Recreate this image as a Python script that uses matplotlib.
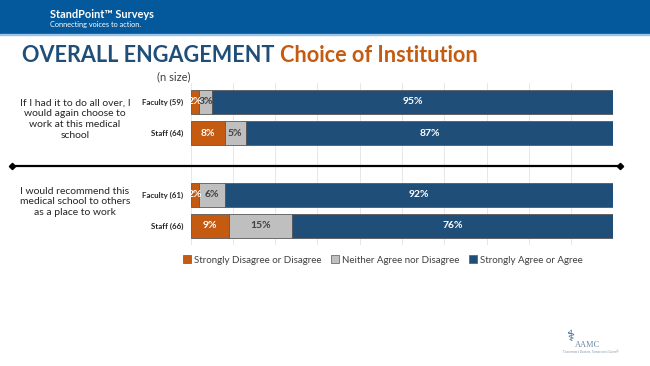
import matplotlib
matplotlib.use("Agg")
import matplotlib.pyplot as plt
from matplotlib.patches import Rectangle, Patch
from matplotlib.lines import Line2D

plt.rcParams['font.family'] = ['Lato', 'DejaVu Sans']

# data
groups = ["Faculty (59)", "Staff (64)", "Faculty (61)", "Staff (66)"]
disagree = [2, 8, 2, 9]
neutral = [3, 5, 6, 15]
agree = [95, 87, 92, 76]
questions = ["If I had it to do all over, I\nwould again choose to\nwork at this medical\nschool",
             "I would recommend this\nmedical school to others\nas a place to work"]
series_names = ["Strongly Disagree or Disagree", "Neither Agree nor Disagree",
                "Strongly Agree or Agree"]

c_orange = "#C55A11"
c_grey = "#BFBFBF"
c_blue = "#1F4E79"
W, H = 650, 366

fig = plt.figure(figsize=(6.5, 3.66), dpi=100)

def fx(px):
    return px / W

def fy(py):
    return 1 - py / H

# header band
fig.patches.append(Rectangle((0, fy(34)), 1, 34 / H, transform=fig.transFigure,
                             color="#03599B", zorder=0))
fig.patches.append(Rectangle((0, fy(35)), 1, 1.2 / H, transform=fig.transFigure,
                             color="#9DC3E6", zorder=0))
fig.text(fx(50), fy(15), "StandPoint\u2122 Surveys", color="white", fontsize=7.9,
         fontweight="bold", va="center", ha="left")
fig.text(fx(50), fy(24.7), "Connecting voices to action.", color="white", fontsize=5.3,
         va="center", ha="left")

# title
t1 = fig.text(fx(22.5), fy(61.7), "OVERALL ENGAGEMENT ", color="#1F4E79", fontsize=15.6,
              fontweight="bold", va="baseline", ha="left")
fig.canvas.draw()
bb = t1.get_window_extent()
fig.text(bb.x1 / W, fy(61.7), "Choice of Institution", color=c_orange, fontsize=15.6,
         fontweight="bold", va="baseline", ha="left")

fig.text(fx(157), fy(77), "(n size)", color="#404040", fontsize=8, va="center")

# bars
ax = fig.add_axes([fx(190.7), fy(244.6), 422.6 / W, 161.2 / H])
pos = [0, 1, 3, 4]
left2 = [a + b for a, b in zip(disagree, neutral)]
b1 = ax.barh(pos, disagree, height=0.8, color=c_orange, edgecolor="#595959", lw=0.6, zorder=2)
b2 = ax.barh(pos, neutral, left=disagree, height=0.8, color=c_grey, edgecolor="#595959", lw=0.6, zorder=2)
b3 = ax.barh(pos, agree, left=left2, height=0.8, color=c_blue, edgecolor="#595959", lw=0.6, zorder=2)
ax.bar_label(b1, labels=[f"{v}%" for v in disagree], label_type="center", color="white",
             fontsize=7.5, fontweight="bold")
ax.bar_label(b2, labels=[f"{v}%" for v in neutral], label_type="center", color="#404040",
             fontsize=7.5, fontweight="bold")
ax.bar_label(b3, labels=[f"{v}%" for v in agree], label_type="center", color="white",
             fontsize=7.5, fontweight="bold")

ax.set_xlim(0, 100)
ax.set_ylim(4.6, -0.6)
ax.set_xticks(range(0, 101, 10))
ax.set_xticklabels([])
ax.grid(axis="x", color="#E3E3E3", lw=0.6, zorder=0)
ax.set_yticks(pos)
ax.set_yticklabels(groups, fontsize=5.7, fontweight="bold", color="#262626")
ax.tick_params(length=0, pad=5.5)
for s in ax.spines.values():
    s.set_visible(False)

# divider between the two questions
fig.lines.append(Line2D([fx(12), fx(620)], [fy(165.7), fy(165.7)], transform=fig.transFigure,
                        color="black", lw=1.6, marker="D", markersize=3.2,
                        markevery=[0, 1], zorder=5))

# question text
fig.text(fx(75), fy(119), questions[0], ha="center", va="center", fontsize=7.5,
         color="#262626", linespacing=1.25)
fig.text(fx(75), fy(202), questions[1], ha="center", va="center", fontsize=7.5,
         color="#262626", linespacing=1.25)

# legend
handles = [Patch(facecolor=c, edgecolor="#595959", lw=0.5) for c in (c_orange, c_grey, c_blue)]
fig.legend(handles, series_names, loc="center", bbox_to_anchor=(fx(383), fy(260)), ncol=3,
           frameon=False, fontsize=7.0, handlelength=0.8, handleheight=0.8,
           handletextpad=0.3, columnspacing=1.0, labelcolor="#404040")

# AAMC mark
fig.text(fx(570), fy(336), "\u2695", family="DejaVu Sans", color="#1F5C99", fontsize=11,
         ha="center", va="center")
fig.text(fx(575), fy(345), "AAMC", family="Liberation Serif", color="#6A86A6", fontsize=6,
         ha="left", va="center")
fig.text(fx(563), fy(352), "Tomorrow's Doctors, Tomorrow's Cures\u00ae", color="#8096AE",
         fontsize=2.2, ha="left", va="center")

fig.savefig("out.png", dpi=100)
